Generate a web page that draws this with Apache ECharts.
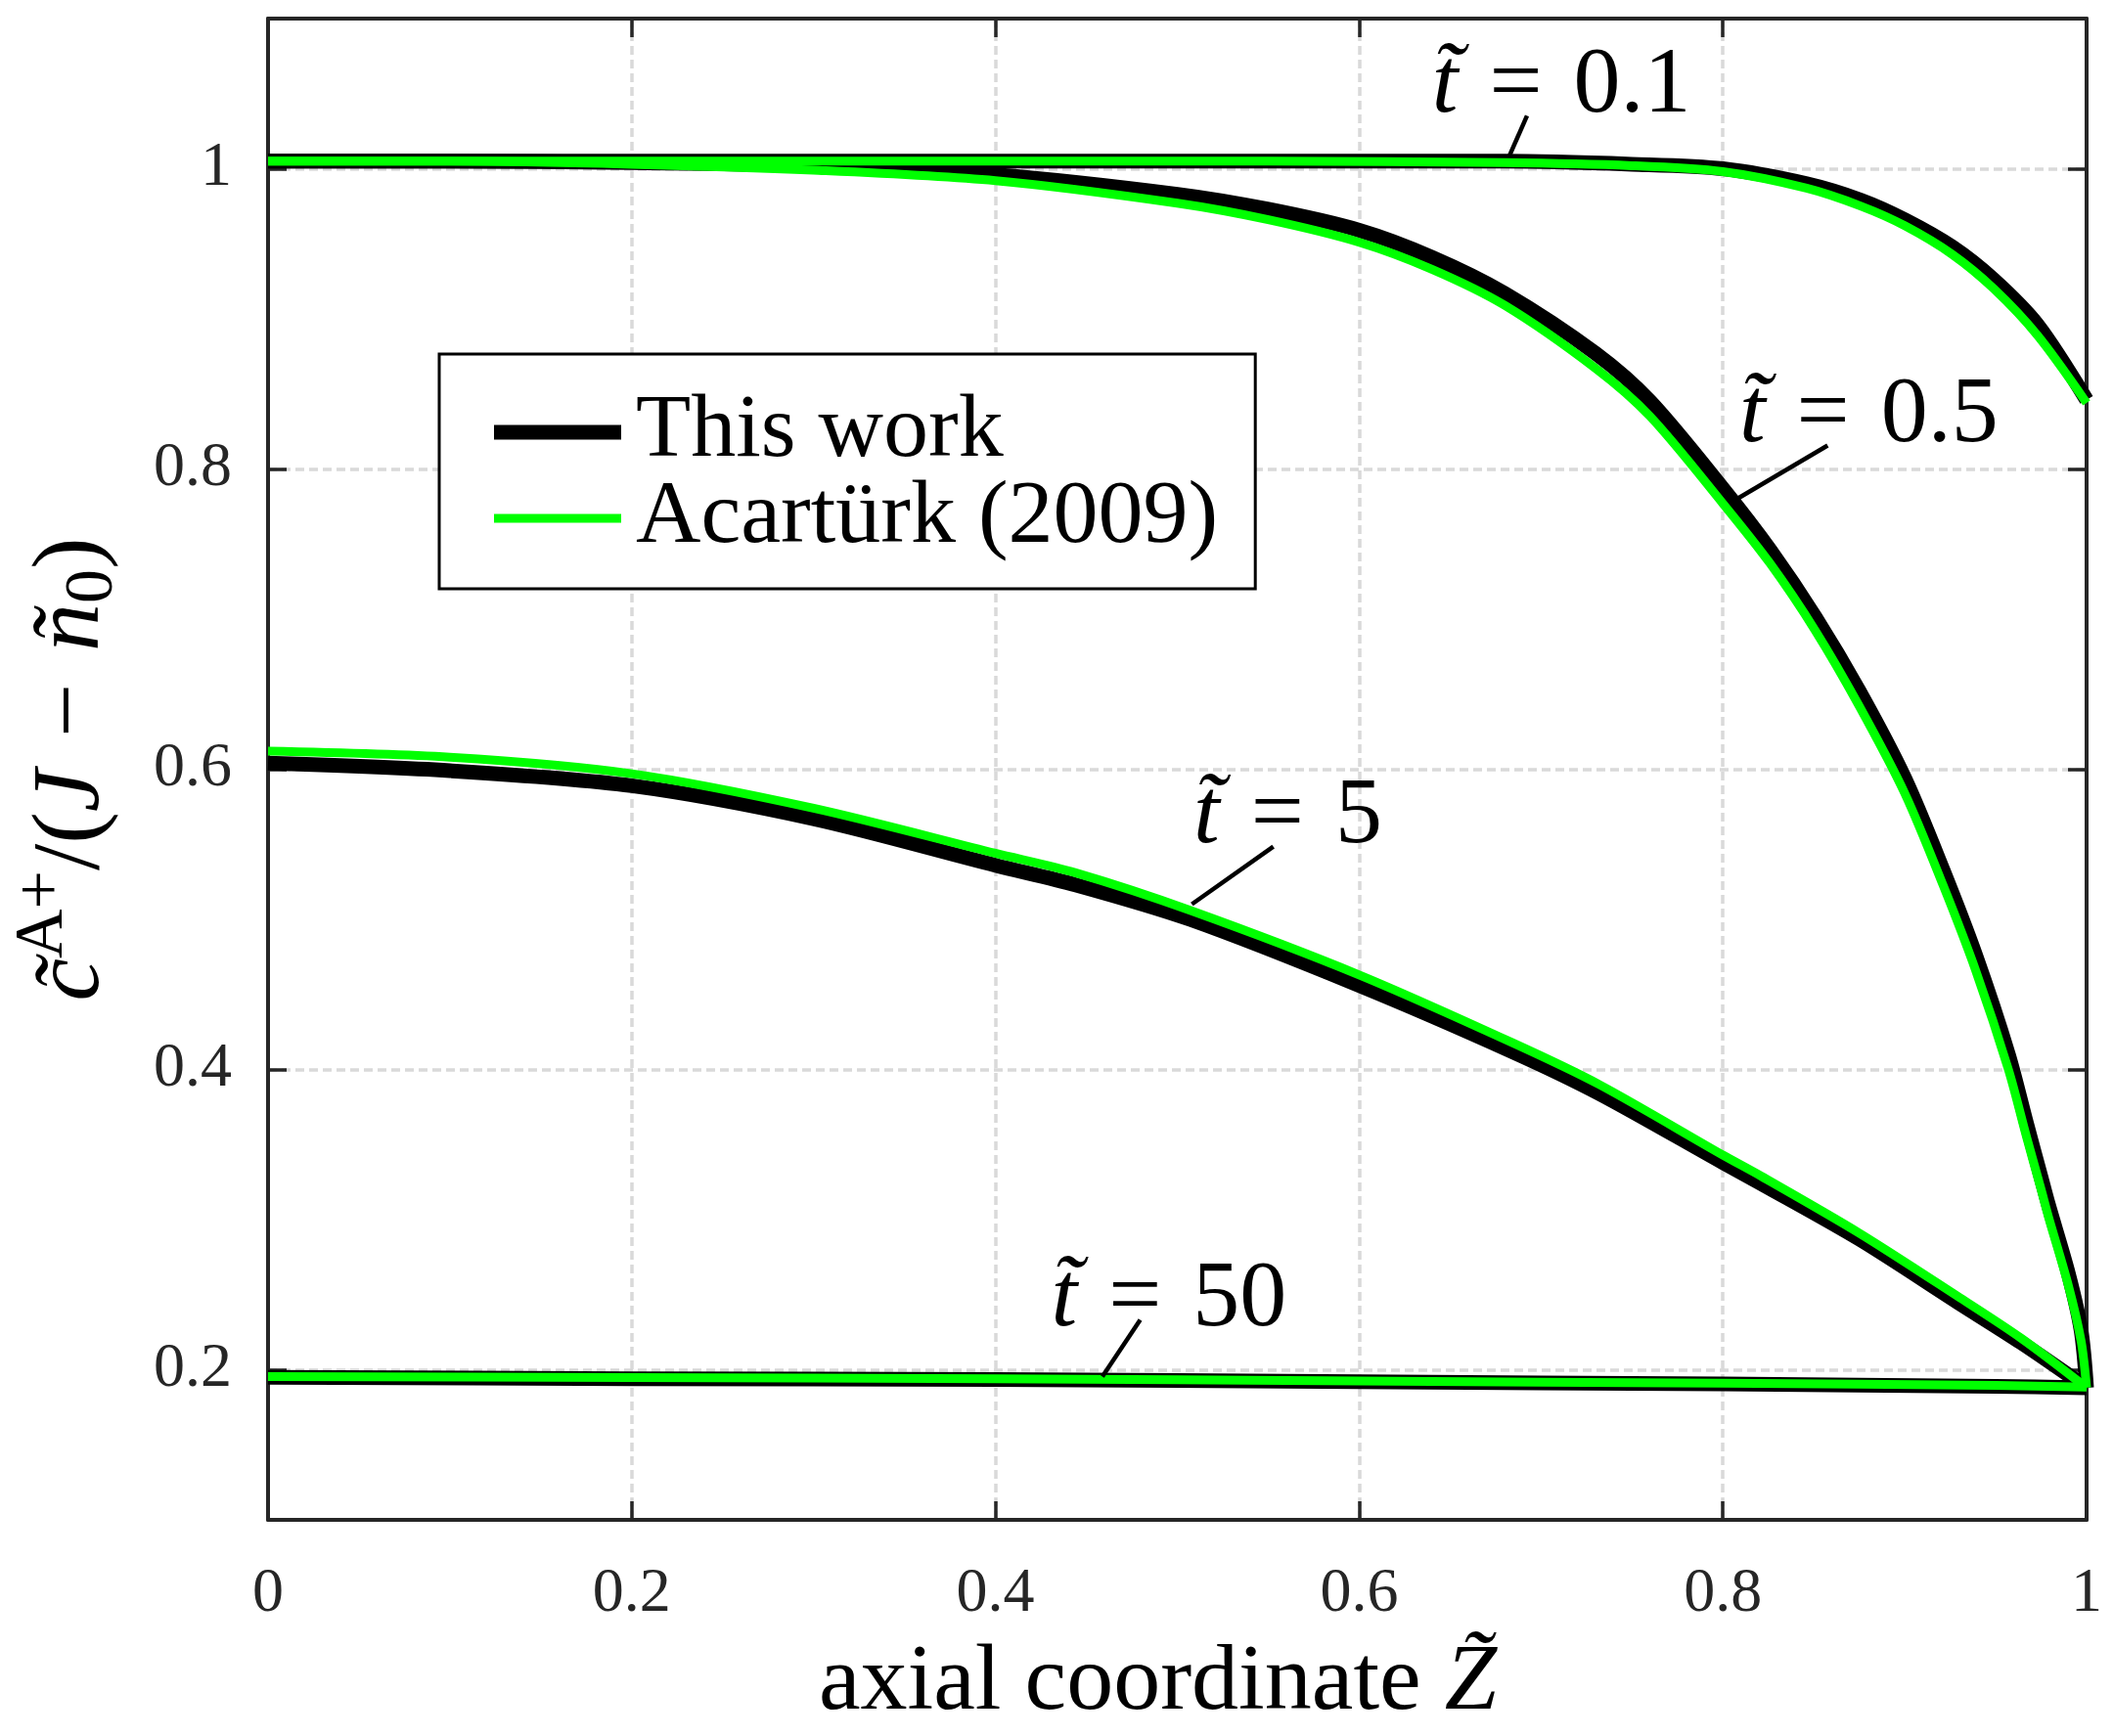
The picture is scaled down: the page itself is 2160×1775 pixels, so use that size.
<!DOCTYPE html>
<html><head><meta charset="utf-8">
<script src="https://cdn.jsdelivr.net/npm/echarts@6/dist/echarts.min.js"></script>
<style>html,body{margin:0;padding:0;background:#fff}#chart{width:2160px;height:1775px}</style>
</head><body><div id="chart"></div>
<script>
// ---------- data ----------
const xTicks = [0, 0.2, 0.4, 0.6, 0.8, 1];
const yTicks = [0.2, 0.4, 0.6, 0.8, 1];
const seriesNames = ['This work', 'Acartürk (2009)'];
const curveLabels = ['0.1', '0.5', '5', '50'];

// t = 0.1
const xT01 = [0, 0.2, 0.4, 0.55, 0.68, 0.75, 0.8, 0.846, 0.876, 0.9, 0.926, 0.949, 0.973, 1.0];
const workT01 = [1.005, 1.005, 1.005, 1.005, 1.005, 1.003, 1.0, 0.990, 0.979, 0.966, 0.948, 0.926, 0.896, 0.846];
const acarT01 = [1.005, 1.005, 1.005, 1.005, 1.004, 1.002, 0.998, 0.987, 0.975, 0.962, 0.943, 0.920, 0.889, 0.844];

// t = 0.5
const xT05 = [0, 0.1, 0.2, 0.3, 0.4, 0.5, 0.55, 0.6, 0.64, 0.68, 0.73, 0.76, 0.8, 0.826, 0.851, 0.875, 0.9, 0.921, 0.939, 0.957, 0.967, 0.975, 0.979, 0.99, 0.997, 1.0];
const workT05 = [1.005, 1.005, 1.004, 1.002, 0.996, 0.983, 0.973, 0.959, 0.941, 0.917, 0.877, 0.845, 0.787, 0.746, 0.701, 0.652, 0.594, 0.533, 0.476, 0.410, 0.364, 0.328, 0.310, 0.264, 0.226, 0.188];
const acarT05 = [1.005, 1.005, 1.003, 0.999, 0.992, 0.977, 0.966, 0.951, 0.933, 0.909, 0.867, 0.835, 0.777, 0.737, 0.692, 0.642, 0.584, 0.523, 0.466, 0.400, 0.355, 0.320, 0.302, 0.256, 0.219, 0.188];

// t = 5
const xT5 = [0, 0.1, 0.2, 0.3, 0.4, 0.444, 0.507, 0.6, 0.684, 0.732, 0.8, 0.821, 0.875, 0.929, 0.964, 1.0];
const workT5 = [0.604, 0.599, 0.589, 0.567, 0.536, 0.523, 0.500, 0.456, 0.412, 0.384, 0.338, 0.324, 0.287, 0.245, 0.218, 0.188];
const acarT5 = [0.612, 0.608, 0.597, 0.574, 0.544, 0.531, 0.506, 0.463, 0.418, 0.390, 0.343, 0.329, 0.291, 0.249, 0.221, 0.188];

// t = 50
const xT50 = [0, 0.2, 0.4, 0.6, 0.8, 0.95, 1.0];
const workT50 = [0.195, 0.194, 0.1935, 0.192, 0.1905, 0.189, 0.188];
const acarT50 = [0.1955, 0.1948, 0.194, 0.1925, 0.191, 0.1895, 0.1885];

// annotation anchors (data coordinates): text left/middle, leader line ends
const annotText = [[0.640, 1.0584], [0.809, 0.8388], [0.5089, 0.5715], [0.4306, 0.2502]];
const annotLineFrom = [[0.6923, 1.0352], [0.8576, 0.8156], [0.5528, 0.5485], [0.4796, 0.2332]];
const annotLineTo = [[0.6826, 1.0085], [0.8070, 0.7795], [0.5080, 0.5101], [0.4588, 0.1954]];

// ---------- chart ----------
const FONT = '"Liberation Serif", "Times New Roman", serif';
const AX = '#262626';
const BLACK = '#000000';
const GREEN = '#00ff00';
const pair = (xs, ys) => xs.map((x, i) => [x, ys[i]]);
const inList = (list, v) => list.some(t => Math.abs(t - v) < 1e-9);

function lineSeries(name, data, color, width) {
  return {
    type: 'line', name, data, xAxisIndex: 0, yAxisIndex: 0,
    symbol: 'none', showSymbol: false, smooth: 0.3, clip: false,
    lineStyle: { color, width, join: 'round' },
    itemStyle: { color },
    emphasis: { disabled: true }, silent: true
  };
}

const chart = echarts.init(document.getElementById('chart'), null, { renderer: 'canvas' });

const gridLine = { color: '#d9d9d9', width: 3.5, type: [9, 5] };
const tickStyle = { color: AX, width: 3.5 };

chart.setOption({
  animation: false,
  backgroundColor: '#ffffff',
  grid: { left: 274, right: 27, top: 19, bottom: 221, containLabel: false },
  legend: {
    data: [
      { name: seriesNames[0], icon: 'path://M0,0H130V15H0Z' },
      { name: seriesNames[1], icon: 'path://M0,0H130V9H0Z' }
    ],
    orient: 'vertical', left: 449, top: 362,
    itemWidth: 130, itemHeight: 40, itemGap: -4,
    padding: [34, 38, 26, 56],
    backgroundColor: '#ffffff', borderColor: BLACK, borderWidth: 3, borderRadius: 0,
    symbolKeepAspect: true,
    itemStyle: { borderWidth: 0 },
    selectedMode: false,
    textStyle: { fontFamily: FONT, fontSize: 92, color: BLACK, padding: [0, 0, 0, 10] }
  },
  xAxis: [{
    type: 'value', min: 0, max: 1, interval: 0.2, position: 'bottom',
    axisLine: { show: true, onZero: false, lineStyle: { color: AX, width: 4 } },
    axisTick: { show: true, inside: true, length: 19, lineStyle: tickStyle },
    axisLabel: { show: true, margin: 44, fontFamily: FONT, fontSize: 64, color: AX,
      formatter: v => inList(xTicks, v) ? String(+v.toFixed(1)) : '' },
    splitLine: { show: true, showMinLine: false, showMaxLine: false, lineStyle: gridLine },
    name: '{rm|axial coordinate }{it|Z\u0303}', nameLocation: 'middle', nameGap: 120,
    nameTextStyle: { fontFamily: FONT, fontSize: 96, color: BLACK, padding: [0, 40, 0, 0],
      rich: { rm: { fontFamily: FONT, fontSize: 96, color: BLACK },
              it: { fontFamily: FONT, fontSize: 96, fontStyle: 'italic', color: BLACK } } }
  }, {
    type: 'value', min: 0, max: 1, interval: 0.2, position: 'top',
    axisLine: { show: true, onZero: false, lineStyle: { color: AX, width: 4 } },
    axisTick: { show: true, inside: true, length: 19, lineStyle: tickStyle },
    axisLabel: { show: false }, splitLine: { show: false }
  }],
  yAxis: [{
    type: 'value', min: 0.1, max: 1.1, splitNumber: 5, position: 'left',
    axisLine: { show: true, onZero: false, lineStyle: { color: AX, width: 4 } },
    axisTick: { show: true, inside: true, length: 19, lineStyle: tickStyle },
    axisLabel: { show: true, margin: 37, fontFamily: FONT, fontSize: 64, color: AX,
      showMinLabel: false, showMaxLabel: false,
      formatter: v => inList(yTicks, v) ? String(+v.toFixed(1)) : '' },
    splitLine: { show: true, showMinLine: false, showMaxLine: false, lineStyle: gridLine },
    name: '{it|c\u0303}{sup|A+}{rm|/(}{it|J}{rm|\u2004\u2212\u2004}{it|\u00f1}{sub|0}{rm|)}',
    nameLocation: 'middle', nameRotate: 90, nameGap: 136,
    nameTextStyle: { fontFamily: FONT, fontSize: 98, color: BLACK,
      rich: {
        it: { fontFamily: FONT, fontSize: 98, fontStyle: 'italic', color: BLACK, verticalAlign: 'middle' },
        rm: { fontFamily: FONT, fontSize: 98, color: BLACK, verticalAlign: 'middle' },
        sup: { fontFamily: FONT, fontSize: 70, color: BLACK, padding: [0, 0, 58, 0], verticalAlign: 'middle' },
        sub: { fontFamily: FONT, fontSize: 70, color: BLACK, padding: [44, 0, 0, 0], verticalAlign: 'middle' }
      } }
  }, {
    type: 'value', min: 0.1, max: 1.1, splitNumber: 5, position: 'right',
    axisLine: { show: true, onZero: false, lineStyle: { color: AX, width: 4 } },
    axisTick: { show: true, inside: true, length: 19, lineStyle: tickStyle },
    axisLabel: { show: false }, splitLine: { show: false }
  }],
  series: [
    lineSeries(seriesNames[0], pair(xT01, workT01), BLACK, 15),
    lineSeries(seriesNames[0], pair(xT05, workT05), BLACK, 15),
    lineSeries(seriesNames[0], pair(xT5, workT5), BLACK, 15),
    lineSeries(seriesNames[0], pair(xT50, workT50), BLACK, 15),
    lineSeries(seriesNames[1], pair(xT01, acarT01), GREEN, 9),
    lineSeries(seriesNames[1], pair(xT05, acarT05), GREEN, 9),
    lineSeries(seriesNames[1], pair(xT5, acarT5), GREEN, 9),
    lineSeries(seriesNames[1], pair(xT50, acarT50), GREEN, 9)
  ]
});

// annotations positioned through the chart's own scales
const TEXT_DY = 6; // small baseline correction (px) for the font's metrics
const toPx = p => chart.convertToPixel({ gridIndex: 0 }, p);
const graphics = [];
curveLabels.forEach((lab, i) => {
  const a = toPx(annotLineFrom[i]), b = toPx(annotLineTo[i]), t = toPx(annotText[i]);
  graphics.push({ type: 'line', z: 50, silent: true,
    shape: { x1: a[0], y1: a[1], x2: b[0], y2: b[1] },
    style: { stroke: BLACK, lineWidth: 4.5 } });
  graphics.push({ type: 'text', z: 50, silent: true, x: t[0], y: t[1] + TEXT_DY,
    style: { text: '{it|t\u0303}{rm|\u2004=\u2004' + lab + '}', align: 'left', verticalAlign: 'middle',
      fill: BLACK, fontFamily: FONT, fontSize: 96,
      rich: { it: { fontFamily: FONT, fontSize: 96, fontStyle: 'italic', fill: BLACK },
              rm: { fontFamily: FONT, fontSize: 96, fill: BLACK } } } });
});
chart.setOption({ graphic: graphics });
</script></body></html>
